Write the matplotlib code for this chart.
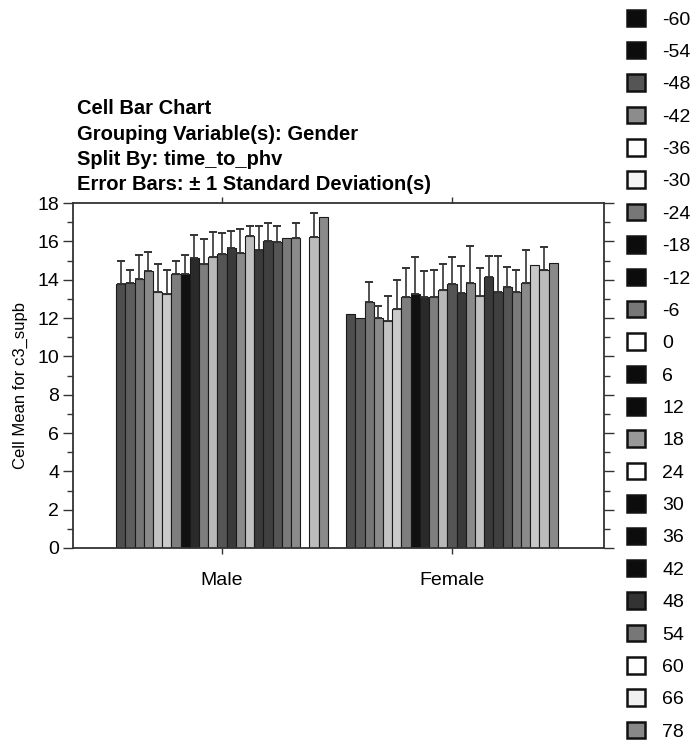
import matplotlib
matplotlib.use("Agg")
import matplotlib.pyplot as plt
from matplotlib.patches import Patch
from matplotlib.ticker import MultipleLocator
import numpy as np

plt.rcParams['font.family'] = ['Liberation Sans', 'DejaVu Sans']

groups = ["Male", "Female"]
time_to_phv = [-60, -54, -48, -42, -36, -30, -24, -18, -12, -6, 0, 6, 12,
               18, 24, 30, 36, 42, 48, 54, 60, 66, 78]

# Cell means per time_to_phv level (None = empty cell)
male_mean = [13.77, 13.84, 14.03, 14.43, 13.34, 13.23, 14.29, 14.29, 15.11,
             14.80, 15.16, 15.36, 15.63, 15.41, 16.28, 15.55, 16.02, 15.98,
             16.19, 16.19, None, 16.24, 17.28]
female_mean = [12.21, 12.01, 12.85, 11.98, 11.84, 12.47, 13.11, 13.23, 13.11,
               13.11, 13.46, 13.76, 13.32, 13.84, 13.16, 14.15, 13.37, 13.63,
               13.37, 13.81, 14.76, 14.50, 14.85]

# Standard deviations (None = single observation, no error bar)
male_sd = [1.22, 0.66, 1.25, 1.03, 1.48, 1.27, 0.68, 0.98, 1.22, 1.30, 1.31,
           1.10, 0.91, 1.23, 0.53, 1.26, 0.92, 0.83, None, 0.75, None, 1.22,
           None]
female_sd = [None, None, 1.04, 0.66, 1.31, 1.51, 1.51, 1.97, 1.34, 1.39, 1.36,
             1.44, 1.39, 1.91, 1.43, 1.10, 1.88, 1.05, 1.13, 1.74, None, 1.22,
             None]

# Bar fills for each level
bar_colors = ["#4e4e4e", "#5e5e5e", "#767676", "#8a8a8a", "#c2c2c2",
              "#cacaca", "#7e7e7e", "#111111", "#2a2a2a", "#7e7e7e",
              "#b8b8b8", "#555555", "#3a3a3a", "#8a8a8a", "#c0c0c0",
              "#3a3a3a", "#404040", "#555555", "#7a7a7a", "#8a8a8a",
              "#c8c8c8", "#bcbcbc", "#8a8a8a"]

# Legend swatch fills
legend_colors = ["#0c0c0c", "#0c0c0c", "#555555", "#8c8c8c", "#ffffff",
                 "#f4f4f4", "#777777", "#0c0c0c", "#0c0c0c", "#777777",
                 "#ffffff", "#0c0c0c", "#0c0c0c", "#999999", "#ffffff",
                 "#0c0c0c", "#0c0c0c", "#0c0c0c", "#333333", "#777777",
                 "#ffffff", "#f0f0f0", "#888888"]

fig = plt.figure(figsize=(6.98, 7.5), dpi=100)
ax = fig.add_axes([73 / 698, 1 - 548 / 750, (604 - 73) / 698, 345 / 750])

n = len(time_to_phv)
width = 0.04
offsets = (np.arange(n) - (n - 1) / 2) * width

for gi, (means, sds) in enumerate([(male_mean, male_sd), (female_mean, female_sd)]):
    for i in range(n):
        m = means[i]
        if m is None:
            continue
        x = gi + offsets[i]
        ax.bar(x, m, width=width, color=bar_colors[i], edgecolor="#1a1a1a",
               linewidth=0.8, zorder=2)
        if sds[i] is not None:
            ax.errorbar(x, m, yerr=[[0], [sds[i]]], fmt="none",
                        ecolor="#333333", elinewidth=1.2, capsize=2.7,
                        capthick=1.4, zorder=3)

ax.set_xlim(-0.648, 1.661)
ax.set_ylim(0, 18)
ax.set_xticks([0, 1])
ax.set_xticklabels(groups, fontsize=14)
ax.yaxis.set_major_locator(MultipleLocator(2))
ax.yaxis.set_minor_locator(MultipleLocator(1))
ax.tick_params(axis="y", which="major", direction="out", length=7,
               width=1, labelsize=14, right=True, color="#333333", pad=3)
ax.tick_params(axis="y", which="minor", direction="out", length=4,
               width=1, right=True, color="#333333")
ax.tick_params(axis="x", direction="out", length=4, width=1, top=True,
               labelsize=14, pad=13, color="#333333")
for s in ax.spines.values():
    s.set_linewidth(1.3)
    s.set_color("#333333")

ax.set_ylabel("Cell Mean for c3_supb", fontsize=12)
ax.yaxis.set_label_coords(-0.085, 0.47)

title_lines = ["Cell Bar Chart",
               "Grouping Variable(s): Gender",
               "Split By: time_to_phv",
               "Error Bars: \u00b1 1 Standard Deviation(s)"]
for k, line in enumerate(title_lines):
    fig.text(77 / 698, 1 - (109 + 25.3 * k) / 750, line, fontsize=14.5,
             fontweight="bold", ha="left", va="center")

handles = [Patch(facecolor=c, edgecolor="#111111", linewidth=1.8)
           for c in legend_colors]
fig.legend(handles, [str(t) for t in time_to_phv], loc="upper left",
           bbox_to_anchor=(613 / 698, 1 + 4 / 750), frameon=False,
           fontsize=14, handlelength=0.93, handleheight=0.93,
           labelspacing=0.69, handletextpad=0.9, borderpad=0.2)

fig.savefig("out.png", dpi=100)
